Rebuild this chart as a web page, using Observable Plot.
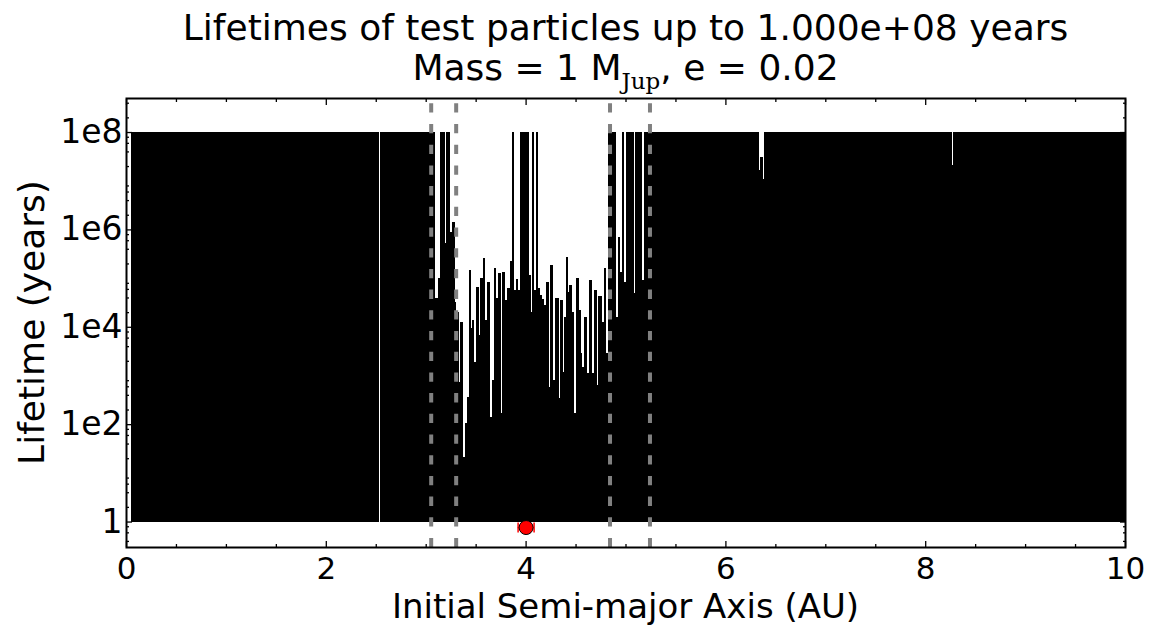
<!DOCTYPE html>
<html><head><meta charset="utf-8">
<script src="https://cdn.jsdelivr.net/npm/d3@7"></script>
<script src="https://cdn.jsdelivr.net/npm/@observablehq/plot@0.6"></script>
<style>body{margin:0;background:#fff} #chart svg{display:block}</style>
</head><body><div id="chart"></div>
<script>
// Run-length encoded particle lifetimes: each run starts at runStart[i] (AU) and lasts to the next start
const runStart = [0.05, 2.53, 2.545,
  3.097, 3.122, 3.145, 3.196, 3.206, 3.246, 3.262, 3.289, 3.302, 3.329, 3.346, 3.369, 3.389, 3.412, 3.429,
  3.452, 3.466, 3.486, 3.503, 3.529, 3.546, 3.573, 3.596, 3.613, 3.640, 3.660, 3.686, 3.706, 3.726, 3.750,
  3.767, 3.797, 3.813, 3.840, 3.862, 3.885, 3.903, 3.928, 3.943, 4.030, 4.054, 4.068, 4.087, 4.104,
  4.124, 4.147, 4.164, 4.180, 4.207, 4.230, 4.247, 4.274, 4.291, 4.331, 4.347, 4.374, 4.387, 4.401,
  4.421, 4.438, 4.464, 4.484, 4.504, 4.531, 4.551, 4.568, 4.588, 4.615, 4.635, 4.665, 4.685, 4.712,
  4.728, 4.762, 4.782, 4.808, 4.825, 4.906, 4.920, 4.948, 4.962, 4.988, 5.002, 5.082, 5.097, 5.166, 5.181,
  6.335, 6.350, 6.375, 6.390, 8.265, 8.278];
const runLife = [1e8, 1, 1e8,
  3.9e4, 1e5, 1e8, 5.2e5, 1e8, 8.9e5, 1.45e6, 3.2e4, 2.0e4, 740, 1.26e4, 21, 105, 360, 1.5e5,
  9.3e3, 1.4e4, 1.9e3, 6.6e4, 6.8e3, 1e5, 2.6e5, 1.4e4, 8.5e4, 140, 810, 1.6e5, 3.9e4, 1.26e5, 170,
  1.35e5, 3.5e4, 6.3e4, 2.2e5, 1e8, 5.6e4, 9.5e4, 5.6e4, 1e8, 1.15e5, 2e4, 1e8, 5.6e4, 1e8,
  6.3e4, 4.5e4, 3.7e4, 2.8e4, 8.5e4, 590, 1.9e5, 810, 3.9e4, 350, 3.5e4, 1.2e3, 1.6e4, 2.75e5,
  5.2e4, 7.2e4, 2e4, 170, 1e5, 2.2e4, 2.9e3, 1.5e3, 1.6e4, 1.1e3, 9.1e4, 1.1e3, 5.6e4, 630,
  4.2e4, 1.26e4, 1.6e5, 2.9e3, 1e8, 1.6e4, 7.1e5, 1.35e5, 1e8, 8.5e4, 1e8, 4.9e4, 1e8, 9.3e4, 1e8,
  1.7e7, 3e7, 1.1e7, 1e8, 2.1e7, 1e8];
const aMax = 10.0;
const boundaryAU = [3.05, 3.30, 4.84, 5.24];
const planetA = 4.0, planetErr = 0.08, planetY = 0.77;
const xMajor = [0, 2, 4, 6, 8, 10];
const xMinor = [0.5, 1, 1.5, 2.5, 3, 3.5, 4.5, 5, 5.5, 6.5, 7, 7.5, 8.5, 9, 9.5];
const yMajor = [1, 1e2, 1e4, 1e6, 1e8];
const yTickLabels = ["1", "1e2", "1e4", "1e6", "1e8"];
const yMinor = [-1,0,1,2,3,4,5,6,7,8].flatMap(k => [2,4,6,8].map(m => m * 10 ** k)).filter(v => v > 0.3 && v < 5e8);

const runs = runStart.map((a0, i) => ({a0, a1: i + 1 < runStart.length ? runStart[i + 1] : aMax, life: runLife[i]}));
const planet = [{a: planetA, err: planetErr, y: planetY}];
const capSymbol = {draw(ctx, size) { const h = Math.sqrt(size / Math.PI); ctx.moveTo(0, -h); ctx.lineTo(0, h); }};

const W = 1154, H = 626, mL = 126, mR = 29, mT = 98, mB = 79;
const font = "DejaVu Sans, sans-serif";

function tx(values, len, anchor) {
  return Plot.axisX(values, {anchor, tickSize: len, dy: anchor === "bottom" ? -len : len, tickFormat: () => "", label: null, strokeWidth: 1.3});
}
function ty(values, len, anchor) {
  return Plot.axisY(values, {anchor, tickSize: len, dx: anchor === "left" ? len : -len, tickFormat: () => "", label: null, strokeWidth: 1.3});
}

const chart = Plot.plot({
  width: W, height: H,
  marginLeft: mL, marginRight: mR, marginTop: mT, marginBottom: mB,
  style: {fontFamily: font, fontSize: "32px", background: "#fff", color: "#000"},
  x: {domain: [0, 10], label: null},
  y: {type: "log", domain: [0.3, 5e8], label: null},
  marks: [
    Plot.rect(runs, {x1: "a0", x2: "a1", y1: 1, y2: "life", fill: "black", shapeRendering: "crispEdges"}),
    Plot.ruleX(boundaryAU, {stroke: "#808080", strokeWidth: 4, strokeDasharray: "9.3,11.4", strokeDashoffset: 15.4}),
    Plot.ruleY(planet, {y: "y", x1: d => d.a - d.err, x2: d => d.a + d.err, stroke: "red", strokeWidth: 1.5}),
    Plot.dot(planet, {x: d => d.a - d.err, y: "y", symbol: capSymbol, r: 5, stroke: "red", strokeWidth: 1.5}),
    Plot.dot(planet, {x: d => d.a + d.err, y: "y", symbol: capSymbol, r: 5, stroke: "red", strokeWidth: 1.5}),
    Plot.dot(planet, {x: "a", y: "y", r: 7, fill: "red", stroke: "black", strokeWidth: 1}),
    Plot.frame({stroke: "black", strokeWidth: 2}),
    tx(xMajor, 6, "bottom"), tx(xMajor, 6, "top"), tx(xMinor, 3, "bottom"), tx(xMinor, 3, "top"),
    ty(yMajor, 6, "left"), ty(yMajor, 6, "right"), ty(yMinor, 3, "left"), ty(yMinor, 3, "right"),
    Plot.axisX(xMajor, {anchor: "bottom", tickSize: 0, tickPadding: 9, label: null, fontSize: 31, tickFormat: d => String(d)}),
    Plot.axisY(yMajor, {anchor: "left", tickSize: 0, tickPadding: 4, label: null, fontSize: 33, tickFormat: d => yTickLabels[yMajor.indexOf(d)]})
  ]
});

const svg = d3.select(chart);
const cx = mL + (W - mL - mR) / 2;
svg.append("text").attr("x", cx).attr("y", 40).attr("text-anchor", "middle")
  .attr("font-family", font).attr("font-size", 36).attr("fill", "#000")
  .text("Lifetimes of test particles up to 1.000e+08 years");
const t2 = svg.append("text").attr("x", cx).attr("y", 80).attr("text-anchor", "middle")
  .attr("font-family", font).attr("font-size", 36).attr("fill", "#000");
t2.append("tspan").text("Mass = 1 M");
t2.append("tspan").attr("font-family", "DejaVu Serif, serif").attr("font-size", 23).attr("dy", 9).text("Jup");
t2.append("tspan").attr("dy", -9).text(", e = 0.02");
svg.append("text").attr("x", cx).attr("y", 617.5).attr("text-anchor", "middle")
  .attr("font-family", font).attr("font-size", 34).attr("fill", "#000")
  .text("Initial Semi-major Axis (AU)");
svg.append("text").attr("transform", `translate(44,${mT + (H - mT - mB) / 2}) rotate(-90)`).attr("text-anchor", "middle")
  .attr("font-family", font).attr("font-size", 36).attr("fill", "#000")
  .text("Lifetime (years)");

document.getElementById("chart").appendChild(chart);
</script>
</body></html>
